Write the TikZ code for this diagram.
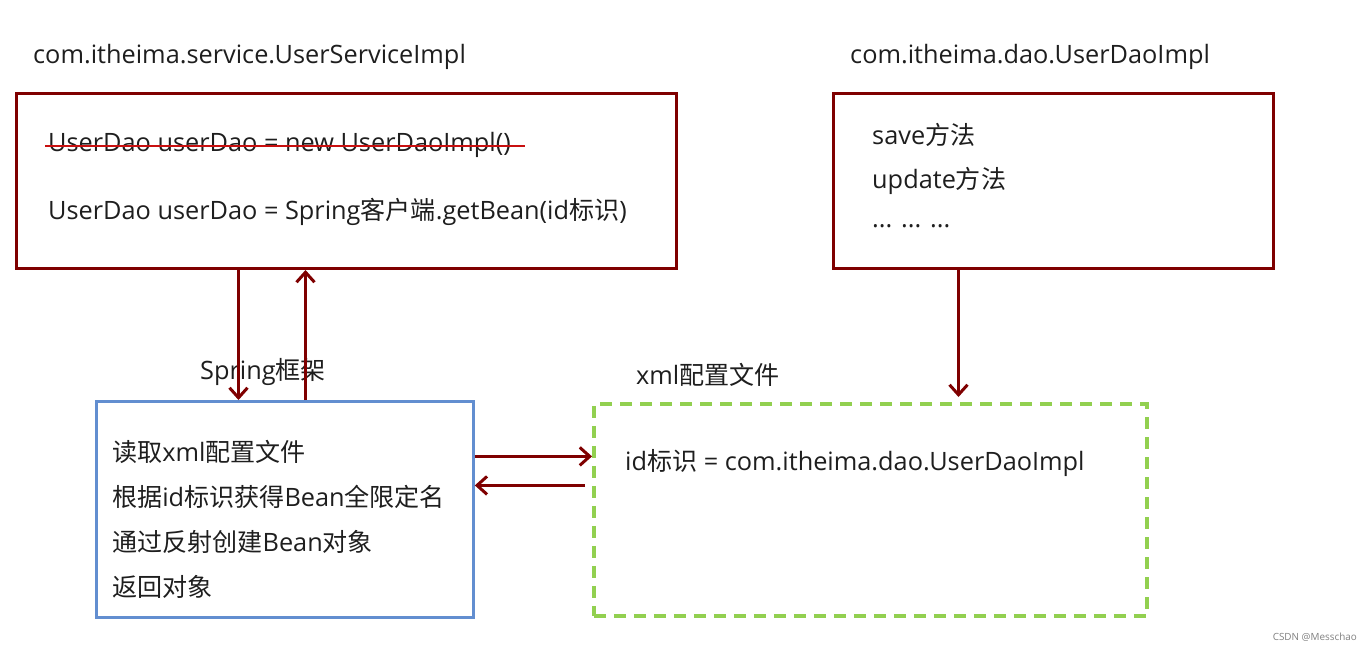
\documentclass[tikz,border=0pt]{standalone}
\usepackage{fontspec}
\setmainfont[Scale=1.1]{Open Sans}
\newfontfamily\cjk[Scale=1.09]{Noto Sans CJK SC}
\usetikzlibrary{positioning, arrows.meta}

\definecolor{boxred}{RGB}{127,0,0}
\definecolor{strikered}{RGB}{200,16,16}
\definecolor{springblue}{RGB}{98,142,208}
\definecolor{xmlgreen}{RGB}{146,208,80}
\definecolor{txtgray}{RGB}{30,30,30}

\tikzset{
    txt/.style={inner sep=0pt, anchor=west, text=txtgray, font=\fontsize{23}{27}\selectfont},
    redbox/.style={draw=boxred, line width=3pt, anchor=north west, inner sep=0pt},
    bluebox/.style={draw=springblue, line width=2.8pt, anchor=north west, inner sep=0pt},
    greenbox/.style={draw=xmlgreen, line width=3.5pt, dash pattern=on 12pt off 8pt, anchor=north west, inner sep=0pt},
    arr/.style={draw=boxred, line width=3pt, -{Straight Barb[length=10pt, width=18pt, line width=3pt]}},
}

\begin{document}
\begin{tikzpicture}[x=1pt, y=-1pt]
    \useasboundingbox (0,0) rectangle (1372,650);

    % boxes
    \node[redbox, minimum width=660pt, minimum height=175pt] (svc) at (15,92) {};
    \node[redbox, minimum width=440pt, minimum height=175pt] (dao) at (832,92) {};
    \node[bluebox, minimum width=377pt, minimum height=216pt] (spring) at (95,400) {};
    \node[greenbox, minimum width=553pt, minimum height=212pt] (xml) at (592,402) {};

    % titles
    \node[txt] (svctitle) at (33,57) {com.itheima.service.UserServiceImpl};
    \node[txt] (daotitle) at (850,57) {com.itheima.dao.UserDaoImpl};
    \node[txt] (springtitle) at (200,372) {Spring{\cjk 框架}};
    \node[txt] (xmltitle) at (636,375) {xml{\cjk 配置文件}};

    % service class
    \node[txt] (old) at (48,145) {UserDao userDao = new UserDaoImpl()};
    \node[txt] (new) at (48,212) {UserDao userDao = Spring{\cjk 客户端}.getBean(id{\cjk 标识})};
    \draw[strikered, line width=2pt] ([xshift=-3pt,yshift=-1pt]old.west) -- ([xshift=14pt,yshift=-1pt]old.east);

    % dao class
    \node[txt] (save) at (872,135) {save{\cjk 方法}};
    \node[txt] (update) at (872,181) {update{\cjk 方法}};
    \node[txt] (dots) at (872,226) {... ... ...};

    % spring steps
    \node[txt] (read) at (112,452) {{\cjk 读取}xml{\cjk 配置文件}};
    \node[txt] (lookup) at (112,497) {{\cjk 根据}id{\cjk 标识获得}Bean{\cjk 全限定名}};
    \node[txt] (create) at (112,542) {{\cjk 通过反射创建}Bean{\cjk 对象}};
    \node[txt] (back) at (112,587) {{\cjk 返回对象}};

    % xml entry
    \node[txt] (entry) at (625,463) {id{\cjk 标识} = com.itheima.dao.UserDaoImpl};

    % arrows
    \draw[arr] ([xshift=-108pt]svc.south) -- ([xshift=-108pt]svc.south |- spring.north);
    \draw[arr] ([xshift=-41pt]svc.south |- spring.north) -- ([xshift=-41pt]svc.south);
    \draw[arr] ([xshift=-95pt]dao.south) -- ([xshift=-95pt,yshift=5pt]dao.south |- xml.north);
    \draw[arr] ([yshift=53pt]spring.east) -- ([yshift=53pt]spring.east -| xml.west);
    \draw[arr] ([xshift=-7pt,yshift=24pt]spring.east -| xml.west) -- ([yshift=24pt]spring.east);

    \node[anchor=east, inner sep=0pt, text=gray, font=\fontsize{9}{10}\selectfont] (mark) at (1357,637) {CSDN @Messchao};
\end{tikzpicture}
\end{document}
